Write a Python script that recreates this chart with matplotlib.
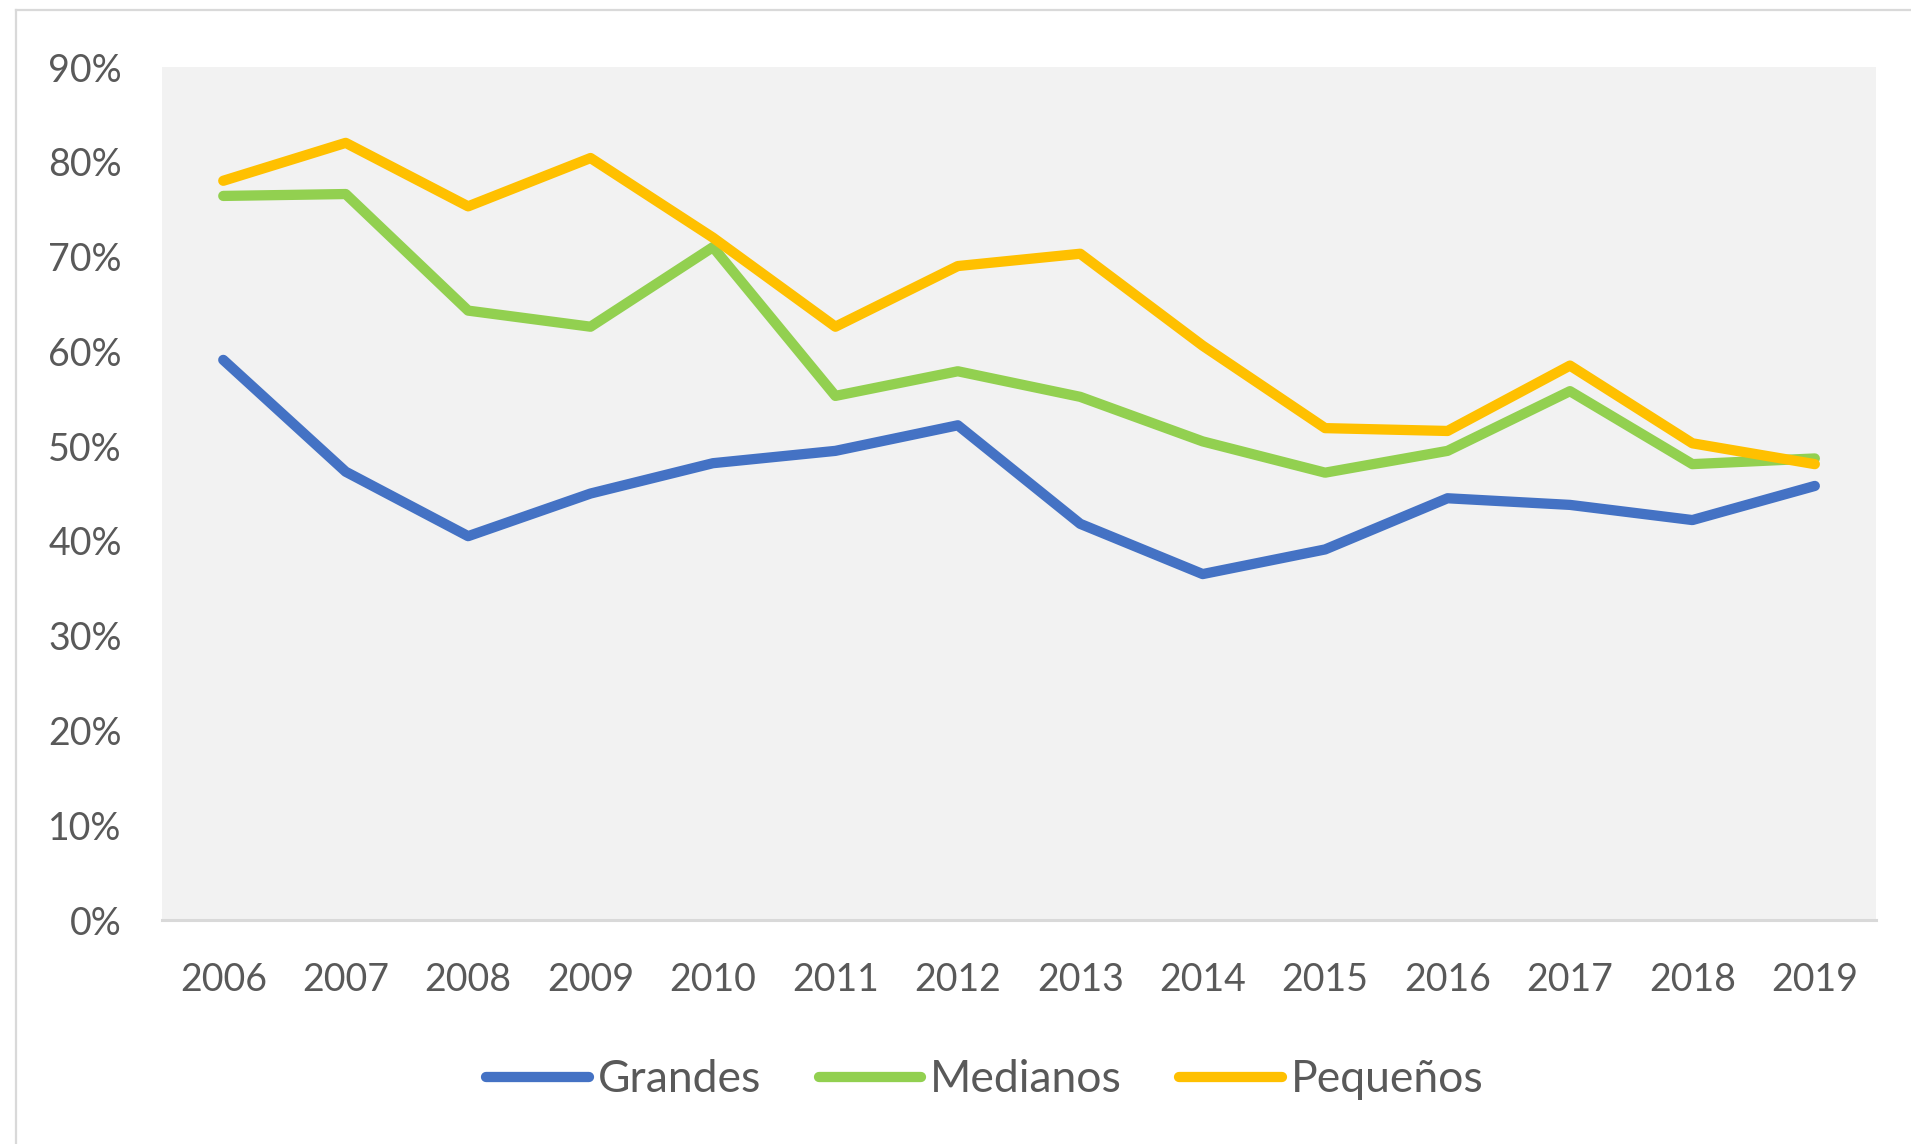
import matplotlib
matplotlib.use("Agg")
import matplotlib.pyplot as plt
from matplotlib.lines import Line2D
from matplotlib.ticker import FuncFormatter

years = ["2006", "2007", "2008", "2009", "2010", "2011", "2012",
         "2013", "2014", "2015", "2016", "2017", "2018", "2019"]
grandes = [0.591, 0.473, 0.405, 0.450, 0.482, 0.495, 0.522,
           0.418, 0.365, 0.391, 0.445, 0.438, 0.422, 0.458]
medianos = [0.764, 0.766, 0.643, 0.626, 0.710, 0.553, 0.579,
            0.552, 0.505, 0.472, 0.495, 0.558, 0.481, 0.487]
pequenos = [0.780, 0.820, 0.753, 0.804, 0.720, 0.626, 0.690,
            0.703, 0.606, 0.519, 0.516, 0.585, 0.503, 0.481]
series_names = ["Grandes", "Medianos", "Pequeños"]
colors = ["#4472C4", "#92D050", "#FFC000"]

plt.rcParams['font.family'] = ['Lato', 'DejaVu Sans']
text_color = "#595959"

fig = plt.figure(figsize=(19.11, 11.44), dpi=100)
ax = fig.add_axes([0.0848, 0.1958, 0.9817 - 0.0848, 0.9414 - 0.1958])
ax.set_facecolor("#F2F2F2")

x = list(range(len(years)))
for vals, name, c in zip([grandes, medianos, pequenos], series_names, colors):
    ax.plot(x, vals, color=c, lw=7.4, label=name,
            solid_capstyle='round', solid_joinstyle='round')

ax.set_xlim(-0.5, len(years) - 0.5)
ax.set_ylim(0, 0.9)
ax.set_yticks([i / 10 for i in range(10)])
ax.yaxis.set_major_formatter(FuncFormatter(lambda v, p: f"{round(v*100)}%"))
ax.set_xticks(x)
ax.set_xticklabels(years)
ax.tick_params(axis='both', length=0, labelsize=27, colors=text_color)
ax.tick_params(axis='y', pad=29)
ax.tick_params(axis='x', pad=30)

for s in ['top', 'right', 'left']:
    ax.spines[s].set_visible(False)
ax.spines['bottom'].set_color("#D9D9D9")
ax.spines['bottom'].set_linewidth(2.2)

leg = fig.legend(loc='center', bbox_to_anchor=(0.5153, 1 - 1080 / 1144), ncol=3,
                 frameon=False, fontsize=32, handlelength=2.3,
                 handletextpad=0.2, columnspacing=1.3)
for t in leg.get_texts():
    t.set_color(text_color)
for h in leg.get_lines():
    h.set_solid_capstyle('round')

# outer chart border (left and top)
bc = "#D9D9D9"
fig.add_artist(Line2D([16 / 1911, 16 / 1911], [0, 1 - 10 / 1144],
                      transform=fig.transFigure, color=bc, lw=1.6))
fig.add_artist(Line2D([16 / 1911, 1], [1 - 10 / 1144, 1 - 10 / 1144],
                      transform=fig.transFigure, color=bc, lw=1.6))

fig.savefig("out.png", dpi=100, facecolor="white")
